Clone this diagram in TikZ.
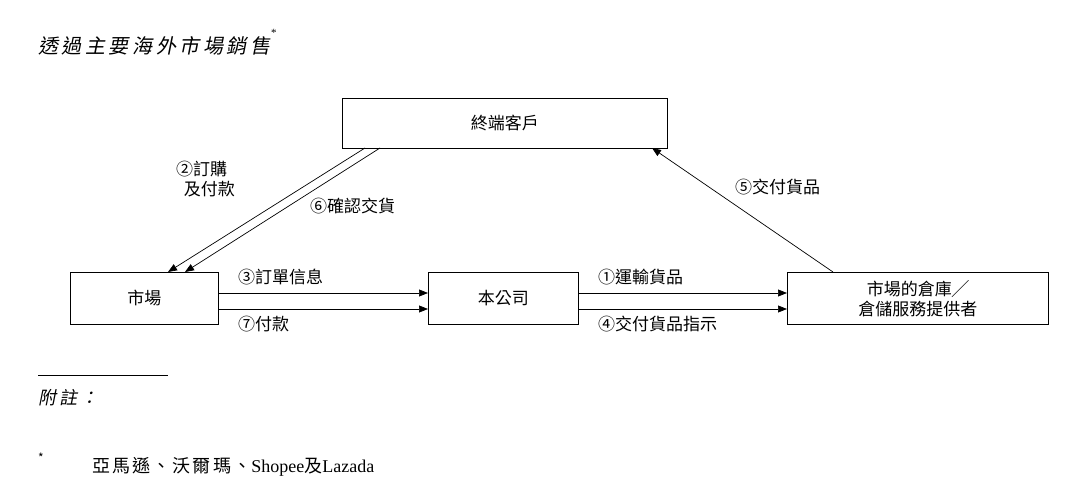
\documentclass[tikz,border=0pt]{standalone}
\usepackage{fontspec}
\setmainfont{Liberation Serif}
\newfontfamily\cjk{Noto Sans CJK TC}
\newfontfamily\cjkwide{Noto Sans CJK TC}[LetterSpace=12]
\newfontfamily\cjksl{Noto Sans CJK TC}[FakeSlant=0.2,LetterSpace=18]
\usetikzlibrary{arrows.meta}
\begin{document}
\begin{tikzpicture}[x=1pt,y=-1pt,
  box/.style={draw,line width=0.8pt,inner sep=0,anchor=north west,font=\cjk\fontsize{17}{20}\selectfont,align=center},
  lbl/.style={font=\cjk\fontsize{17}{20}\selectfont,inner sep=0},
  arr/.style={-{Triangle[length=9pt,width=7pt]},line width=0.7pt}]
\useasboundingbox (0,0) rectangle (1080,497);
\node[lbl,anchor=west,font=\cjksl\fontsize{20}{22}\selectfont] (title) at (38,46) {透過主要海外市場銷售};
\node[lbl,anchor=south west,font=\fontsize{11}{11}\selectfont] (tstar) at (title.north east) {*};
\node[box,minimum width=325pt,minimum height=50pt] (cust) at (342,98) {終端客戶};
\node[box,minimum width=148pt,minimum height=52pt] (mkt) at (70,272) {市場};
\node[box,minimum width=150pt,minimum height=52pt] (co) at (428,272) {本公司};
\node[box,minimum width=261pt,minimum height=52pt] (wh) at (787,272) {市場的倉庫╱\\倉儲服務提供者};
\coordinate (c1) at (365,148); \coordinate (c2) at (380,148);
\coordinate (m1) at (168,272); \coordinate (m2) at (185,272);
\draw[arr] (c1) -- (m1);
\draw[arr] (c2) -- (m2);
\draw[arr] (mkt.east |- 0,293) -- (co.west |- 0,293);
\draw[arr] (mkt.east |- 0,309) -- (co.west |- 0,309);
\draw[arr] (co.east |- 0,293) -- (wh.west |- 0,293);
\draw[arr] (co.east |- 0,309) -- (wh.west |- 0,309);
\coordinate (w1) at (833,272); \coordinate (u1) at (652,148);
\draw[arr] (w1) -- (u1);
\node[lbl,anchor=west,align=left] (l2) at (176,179) {②訂購\\\ \ 及付款};
\node[lbl,anchor=west] (l6) at (310,206) {⑥確認交貨};
\node[lbl,anchor=west] (l3) at (238,277) {③訂單信息};
\node[lbl,anchor=west] (l7) at (238,324) {⑦付款};
\node[lbl,anchor=west] (l1) at (598,277) {①運輸貨品};
\node[lbl,anchor=west] (l4) at (598,324) {④交付貨品指示};
\node[lbl,anchor=west] (l5) at (735,187) {⑤交付貨品};
\draw[line width=0.6pt] (38,375) -- (168,375);
\node[lbl,anchor=west,font=\cjksl\fontsize{18}{20}\selectfont] (note) at (38,398) {附註：};
\node[lbl,anchor=west] (star) at (38,458) {\fontsize{12}{12}\selectfont *};
\node[lbl,anchor=west,font=\cjkwide\fontsize{18}{20}\selectfont] (fn) at (92,467) {亞馬遜、沃爾瑪、{\rmfamily\fontsize{18}{20}\selectfont Shopee}及{\rmfamily\fontsize{18}{20}\selectfont Lazada}};
\end{tikzpicture}
\end{document}
